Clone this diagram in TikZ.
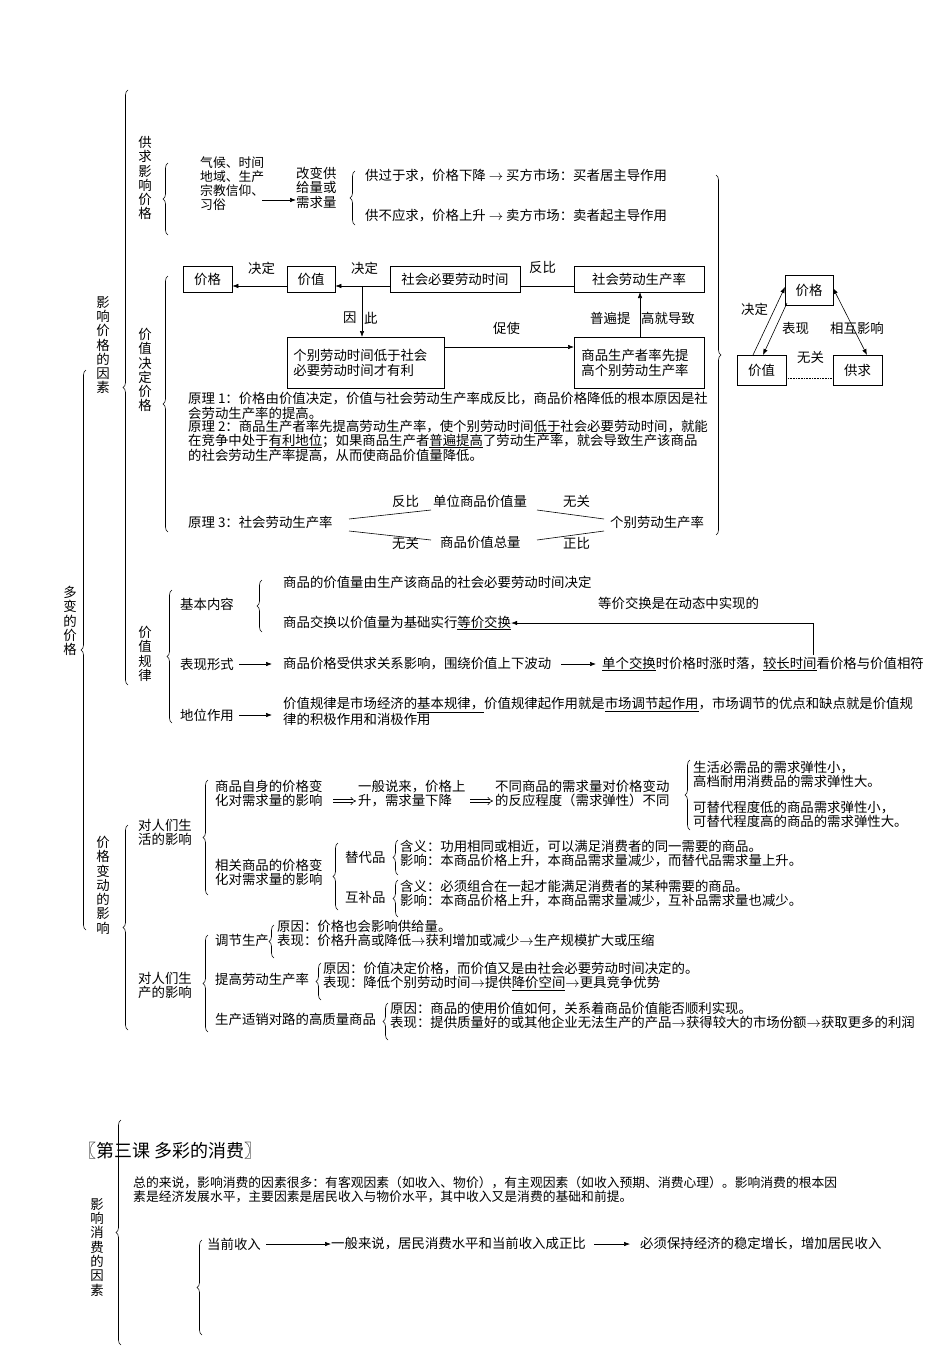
\documentclass[tikz,border=0pt]{standalone}
\usepackage{fontspec}
\setmainfont{Noto Sans CJK SC}
\usetikzlibrary{arrows.meta,decorations.pathreplacing}
\newcommand{\fs}{\fontsize{13.4}{14.3}\selectfont}
\newcommand{\fsb}{\fontsize{12.8}{14}\selectfont}
\tikzset{
 txt/.style={anchor=west,inner sep=0pt,font=\fs,align=left},
 tl/.style={anchor=north west,inner sep=0pt,font=\fs,align=left},
 vtxt/.style={anchor=north,inner sep=0pt,font=\fs,align=center},
 box/.style={draw,line width=0.7pt,inner sep=0pt,font=\fs,align=left},
 arr/.style={line width=0.6pt,-{Latex[length=6pt,width=4.5pt]}},
 brc/.style={decorate,decoration={brace,amplitude=5pt},line width=0.6pt},
 dbl/.style={double,double distance=2.2pt,line width=0.6pt,-{Implies}},
 ln/.style={line width=0.6pt}
}
\begin{document}
\begin{tikzpicture}[x=1pt,y=-1pt]
\useasboundingbox[fill=white] (0,0) rectangle (950,1346);
% outer braces
\node[vtxt] (duobian) at (70,586) {多\\变\\的\\价\\格};
\draw[brc] (86,930) -- (86,370);
\node[vtxt] (yxjg) at (103,296) {影\\响\\价\\格\\的\\因\\素};
\draw[brc] (128,685) -- (128,90);
\node[vtxt] (jgbd) at (103,836) {价\\格\\变\\动\\的\\影\\响};
\draw[brc] (128,1030) -- (128,825);
% ---------- 供求影响价格
\node[vtxt] (gq) at (145,136) {供\\求\\影\\响\\价\\格};
\draw[brc] (168,235) -- (168,163);
\node[tl,font=\fsb] (qh) at (200,157) {气候、时间\\地域、生产\\宗教信仰、\\习俗};
\node[tl] (gb) at (296,167) {改变供\\给量或\\需求量};
\draw[arr] (262,200) -- (gb.west|-262,200);
\draw[brc] (355,225) -- (355,171);
\node[txt] (gg) at (365,176) {供过于求，价格下降 $\rightarrow$ 买方市场：买者居主导作用};
\node[txt] (gb2) at (365,216) {供不应求，价格上升 $\rightarrow$ 卖方市场：卖者起主导作用};
\draw[brc] (716,175) -- (716,535);
% ---------- 价值决定价格
\node[vtxt] (jzjd) at (145,328) {价\\值\\决\\定\\价\\格};
\draw[brc] (168,532) -- (168,276);
\node[box,minimum width=49pt,minimum height=26pt] (b1) at (207.5,279) {价格};
\node[box,minimum width=48pt,minimum height=26pt] (b2) at (311,279) {价值};
\node[box,minimum width=130pt,minimum height=26pt] (b3) at (455,279) {社会必要劳动时间};
\node[box,minimum width=130pt,minimum height=26pt] (b4) at (639,279) {社会劳动生产率};
\node[box,minimum width=157pt,minimum height=51pt,text width=145pt,anchor=north west,inner xsep=6pt,inner ysep=5pt] (b5) at (287,337) {个别劳动时间低于社会\\必要劳动时间才有利};
\node[box,minimum width=130pt,minimum height=51pt,anchor=north west,inner xsep=7pt,inner ysep=5pt,text width=116pt] (b6) at (574,337) {商品生产者率先提\\高个别劳动生产率};
\draw[arr] (b2.west|-0,286) -- (b1.east|-0,286);
\draw[arr] (b3.west|-0,286) -- (b2.east|-0,286);
\draw[ln] (b3.east|-0,286) -- (b4.west|-0,286);
\node[txt] (l1) at (248,268) {决定};
\node[txt] (l2) at (351,268) {决定};
\node[txt] (l3) at (529,267) {反比};
\coordinate (c1) at (362,286);
\draw[arr] (c1) -- (362,337);
\node[txt] (l4) at (343,318) {因};
\node[txt] (l5) at (364,318) {此};
\draw[arr] (b5.east|-0,347) -- (b6.west|-0,347);
\node[txt] (l6) at (493,328) {促使};
\draw[arr] (640,337) -- (640,292);
\node[txt] (l7) at (590,318) {普遍提};
\node[txt] (l8) at (641,318) {高就导致};
\node[txt] (y1) at (188,399) {原理 1：价格由价值决定，价值与社会劳动生产率成反比，商品价格降低的根本原因是社};
\node[txt] (y2) at (188,413) {会劳动生产率的提高。};
\node[txt] (y3) at (188,427) {原理 2：商品生产者率先提高劳动生产率，使个别劳动时间\underline{低于}社会必要劳动时间，就能};
\node[txt] (y4) at (188,441) {在竞争中处于\underline{有利地位}；如果商品生产者\underline{普遍提高}了劳动生产率，就会导致生产该商品};
\node[txt] (y5) at (188,456) {的社会劳动生产率提高，从而使商品价值量降低。};
\node[txt] (y6) at (188,522) {原理 3：社会劳动生产率};
\node[txt] (y7) at (610,522) {个别劳动生产率};
\node[txt] (y8) at (392,501) {反比};
\node[txt] (y9) at (433,501) {单位商品价值量};
\node[txt] (y10) at (563,501) {无关};
\node[txt] (y11) at (392,543) {无关};
\node[txt] (y12) at (440,542) {商品价值总量};
\node[txt] (y13) at (563,543) {正比};
\draw[ln] (349,519) -- (431,510);
\draw[ln] (537,510) -- (604,519);
\draw[ln] (349,531) -- (431,540);
\draw[ln] (537,540) -- (604,531);
% ---------- triangle
\node[box,minimum width=48pt,minimum height=30pt] (t1) at (809,290) {价格};
\node[box,minimum width=49pt,minimum height=30pt] (t2) at (761.5,370) {价值};
\node[box,minimum width=49pt,minimum height=30pt] (t3) at (857.5,370) {供求};
\draw[arr] (753,355) -- (785,287);
\draw[arr] (787,303) -- (763,355);
\draw[line width=0.6pt,{Latex[length=6pt,width=4.5pt]}-{Latex[length=6pt,width=4.5pt]}] (833,288) -- (867,355);
\draw[densely dotted,line width=0.6pt] (t2.east|-0,378) -- (t3.west|-0,378);
\node[txt] (t4) at (741,309) {决定};
\node[txt] (t5) at (782,328) {表现};
\node[txt] (t6) at (830,328) {相互影响};
\node[txt] (t7) at (797,357) {无关};
% ---------- 价值规律
\node[vtxt] (jzgl) at (145,626) {价\\值\\规\\律};
\draw[brc] (172,723) -- (172,590);
\node[txt] (jb) at (180,604) {基本内容};
\draw[brc] (262,632) -- (262,580);
\node[txt] (jb1) at (283,582) {商品的价值量由生产该商品的社会必要劳动时间决定};
\node[txt] (jb2) at (598,603) {等价交换是在动态中实现的};
\node[txt] (jb3) at (283,623) {商品交换以价值量为基础实行\underline{等价交换}};
\node[txt] (bx) at (180,664) {表现形式};
\node[txt] (bx1) at (283,664) {商品价格受供求关系影响，围绕价值上下波动};
\node[txt] (bx2) at (602,664) {\underline{单个交换}时价格时涨时落，\underline{较长时间}看价格与价值相符};
\draw[arr] (bx.east) ++(5,0) -- (272,664);
\draw[arr] (bx1.east) ++(10,0) -- (596,664);
\draw[arr] (813,655) -- (813,623) -- (jb3.east);
\node[txt] (dw) at (180,715) {地位作用};
\draw[arr] (dw.east) ++(5,0) -- (272,715);
\node[txt] (dw1) at (283,705) {价值规律是市场经济的\underline{基本规律，}价值规律起作用就是\underline{市场调节起作用}，市场调节的优点和缺点就是价值规};
\node[txt] (dw2) at (283,719) {律的积极作用和消极作用};
% ---------- 价格变动的影响
\node[tl] (sh) at (138,819) {对人们生\\活的影响};
\draw[brc] (208,895) -- (208,780);
\node[tl] (sp) at (215,780) {商品自身的价格变\\化对需求量的影响};
\node[tl] (yb) at (358,780) {一般说来，价格上\\升，需求量下降};
\node[tl] (bt) at (495,780) {不同商品的需求量对价格变动\\的反应程度（需求弹性）不同};
\draw[dbl] (333,801) -- (356,801);
\draw[dbl] (470,801) -- (493,801);
\draw[brc] (690,830) -- (690,760);
\node[tl] (e1) at (693,761) {生活必需品的需求弹性小，\\高档耐用消费品的需求弹性大。};
\node[tl] (e2) at (693,801) {可替代程度低的商品需求弹性小，\\可替代程度高的商品的需求弹性大。};
\node[tl] (xg) at (215,859) {相关商品的价格变\\化对需求量的影响};
\draw[brc] (338,910) -- (338,843);
\node[txt] (td) at (345,857) {替代品};
\node[txt] (hb) at (345,897) {互补品};
\draw[brc] (398,875) -- (398,840);
\node[tl] (td1) at (400,840) {含义：功用相同或相近，可以满足消费者的同一需要的商品。\\影响：本商品价格上升，本商品需求量减少，而替代品需求量上升。};
\draw[brc] (398,917) -- (398,880);
\node[tl] (hb1) at (400,880) {含义：必须组合在一起才能满足消费者的某种需要的商品。\\影响：本商品价格上升，本商品需求量减少，互补品需求量也减少。};
\node[tl] (sc) at (138,972) {对人们生\\产的影响};
\draw[brc] (208,1032) -- (208,935);
\node[txt] (tj) at (215,940) {调节生产};
\draw[brc] (274,958) -- (274,925);
\node[tl] (tj1) at (277,920) {原因：价格也会影响供给量。\\表现：价格升高或降低$\rightarrow$获利增加或减少$\rightarrow$生产规模扩大或压缩};
\node[txt] (tg) at (215,979) {提高劳动生产率};
\draw[brc] (321,1000) -- (321,963);
\node[tl] (tg1) at (323,962) {原因：价值决定价格，而价值又是由社会必要劳动时间决定的。\\表现：降低个别劳动时间$\rightarrow$提供\underline{降价空间}$\rightarrow$更具竞争优势};
\node[txt] (sx) at (215,1019) {生产适销对路的高质量商品};
\draw[brc] (388,1040) -- (388,1003);
\node[tl] (sx1) at (390,1002) {原因：商品的使用价值如何，关系着商品价值能否顺利实现。\\表现：提供质量好的或其他企业无法生产的产品$\rightarrow$获得较大的市场份额$\rightarrow$获取更多的利润};
% ---------- 第三课
\node[txt,font=\fontsize{18}{20}\selectfont] (ke) at (78,1151) {〖第三课 多彩的消费〗};
\draw[brc] (121,1345) -- (121,1120);
\node[vtxt] (yxxf) at (97,1198) {影\\响\\消\\费\\的\\因\\素};
\node[tl,font=\fsb] (zd) at (133,1176) {总的来说，影响消费的因素很多：有客观因素（如收入、物价），有主观因素（如收入预期、消费心理）。影响消费的根本因\\素是经济发展水平，主要因素是居民收入与物价水平，其中收入又是消费的基础和前提。};
\draw[brc] (202,1335) -- (202,1240);
\node[txt] (dq) at (207,1244) {当前收入};
\node[txt] (yb2) at (331,1244) {一般来说，居民消费水平和当前收入成正比};
\node[txt] (bx3) at (640,1244) {必须保持经济的稳定增长，增加居民收入};
\draw[arr] (dq.east) ++(5,0) -- (yb2.west);
\draw[arr] (yb2.east) ++(8,0) -- (630,1244);
\end{tikzpicture}
\end{document}
